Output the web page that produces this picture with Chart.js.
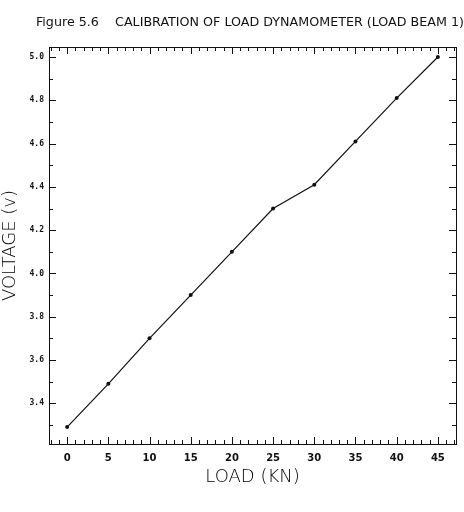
<!DOCTYPE html>
<html>
<head>
<meta charset="utf-8">
<script src="https://cdn.jsdelivr.net/npm/chart.js@4.4.0/dist/chart.umd.min.js"></script>
<style>
  html, body { margin: 0; padding: 0; background: #fff; }
</style>
</head>
<body>
<canvas id="grafico" width="464" height="512"></canvas>
<script>
// datos
var cargas = [0, 5, 10, 15, 20, 25, 30, 35, 40, 45];
var voltajes = [3.29, 3.49, 3.70, 3.90, 4.10, 4.30, 4.41, 4.61, 4.81, 5.00];
var xEtiquetas = [0, 5, 10, 15, 20, 25, 30, 35, 40, 45];
var yEtiquetas = [3.4, 3.6, 3.8, 4.0, 4.2, 4.4, 4.6, 4.8, 5.0];

var xMin = -2.2, xMax = 47.2;
var yMin = 3.212, yMax = 5.046;

var negro = '#111';

// marcas menores cada 1 kN y cada 0.1 V
var xMenores = [];
for (var i = -2; i <= 47; i++) xMenores.push(i);
var yMenores = [];
for (var j = 33; j <= 50; j++) yMenores.push(j / 10);

// dibuja el marco y las marcas hacia adentro en los cuatro lados
var marcasInternas = {
  id: 'marcasInternas',
  afterDraw: function (chart) {
    var ctx = chart.ctx;
    var a = chart.chartArea;
    var sx = chart.scales.x, sy = chart.scales.y;
    ctx.save();
    ctx.strokeStyle = negro;
    ctx.lineWidth = 1;
    ctx.strokeRect(Math.round(a.left) + 0.5, Math.round(a.top) + 0.5,
      Math.round(a.right - a.left), Math.round(a.bottom - a.top));
    ctx.beginPath();
    xMenores.forEach(function (v) {
      var px = Math.round(sx.getPixelForValue(v)) + 0.5;
      var largo = (v % 5 === 0) ? 7 : 4;
      ctx.moveTo(px, a.bottom); ctx.lineTo(px, a.bottom - largo);
      ctx.moveTo(px, a.top); ctx.lineTo(px, a.top + largo);
    });
    yMenores.forEach(function (v) {
      var py = Math.round(sy.getPixelForValue(v)) + 0.5;
      var mayor = Math.round(v * 10) % 2 === 0;
      var largo = mayor ? 7 : 4;
      ctx.moveTo(a.left, py); ctx.lineTo(a.left + largo, py);
      ctx.moveTo(a.right, py); ctx.lineTo(a.right - largo, py);
    });
    ctx.stroke();
    ctx.restore();
  }
};

var ctx = document.getElementById('grafico').getContext('2d');
var miGrafico = new Chart(ctx, {
  type: 'line',
  data: {
    datasets: [{
      label: 'Voltaje',
      data: cargas.map(function (c, k) { return { x: c, y: voltajes[k] }; }),
      borderColor: negro,
      borderWidth: 1.2,
      pointRadius: 2,
      pointBackgroundColor: negro,
      pointBorderWidth: 0,
      tension: 0,
      fill: false
    }]
  },
  options: {
    responsive: false,
    animation: false,
    devicePixelRatio: 1,
    layout: { padding: 0 },
    plugins: {
      legend: { display: false },
      tooltip: { enabled: false },
      title: {
        display: true,
        text: 'Figure 5.6    CALIBRATION OF LOAD DYNAMOMETER (LOAD BEAM 1)',
        align: 'end',
        color: negro,
        font: { family: 'DejaVu Sans', size: 12.7, weight: 'normal' },
        padding: { top: 15.4, bottom: 16.4 }
      }
    },
    scales: {
      x: {
        type: 'linear',
        position: 'bottom',
        min: xMin,
        max: xMax,
        grid: { display: false, drawTicks: false },
        border: { display: false },
        afterBuildTicks: function (s) { s.ticks = xEtiquetas.map(function (v) { return { value: v }; }); },
        afterFit: function (s) { s.height = 68; },
        ticks: {
          color: negro,
          padding: 8,
          maxRotation: 0,
          font: { family: 'DejaVu Sans', size: 10, weight: 'bold' }
        },
        title: {
          display: true,
          text: 'LOAD (KN)',
          color: '#000',
          font: { family: 'DejaVu Sans', size: 18, weight: 200 },
          padding: { top: 0, bottom: 24 }
        }
      },
      y: {
        type: 'linear',
        position: 'left',
        min: yMin,
        max: yMax,
        grid: { display: false, drawTicks: false },
        border: { display: false },
        afterBuildTicks: function (s) { s.ticks = yEtiquetas.map(function (v) { return { value: v }; }); },
        afterFit: function (s) { s.width = 49; },
        ticks: {
          color: negro,
          padding: 5,
          font: { family: 'DejaVu Sans Mono', size: 8, weight: 'bold' },
          callback: function (v) { return v.toFixed(1); }
        },
        title: {
          display: true,
          text: 'VOLTAGE (v)',
          color: '#000',
          font: { family: 'DejaVu Sans', size: 18, weight: 200 },
          padding: { top: 0, bottom: 0 }
        }
      },
      yDer: {
        type: 'linear',
        position: 'right',
        min: yMin,
        max: yMax,
        grid: { display: false, drawTicks: false },
        border: { display: false },
        ticks: { display: false },
        afterFit: function (s) { s.width = 8; }
      }
    }
  },
  plugins: [marcasInternas]
});
</script>
</body>
</html>
